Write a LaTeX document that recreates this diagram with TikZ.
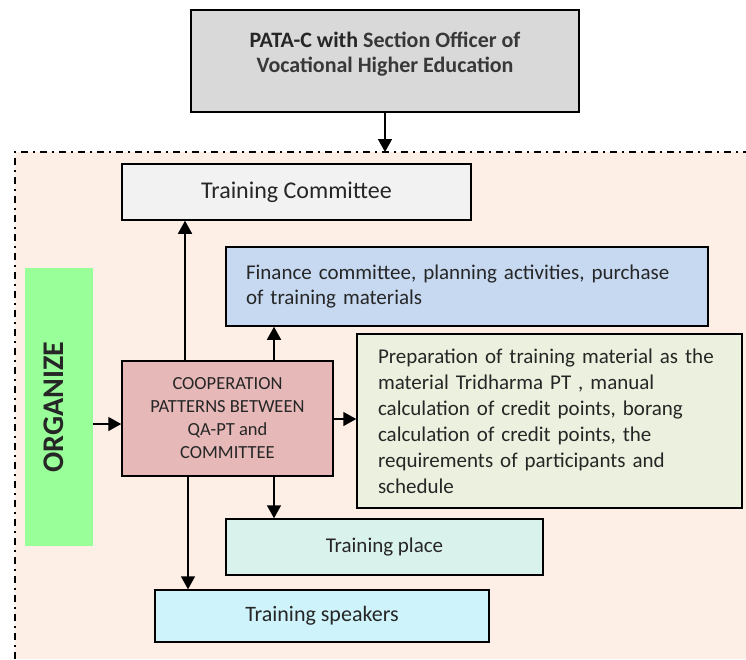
\documentclass[tikz,border=0pt]{standalone}
\usepackage{fontspec}
\setmainfont{Carlito}
\usetikzlibrary{arrows.meta}
\definecolor{peach}{HTML}{FDEFE6}
\definecolor{topgray}{HTML}{D9D9D9}
\definecolor{tcgray}{HTML}{F2F2F2}
\definecolor{finblue}{HTML}{C6D9F1}
\definecolor{coopred}{HTML}{E6B9B8}
\definecolor{prepgreen}{HTML}{EBF1DE}
\definecolor{placemint}{HTML}{D9F2EB}
\definecolor{spkcyan}{HTML}{CEF3FB}
\definecolor{orggreen}{HTML}{99FF99}
\definecolor{txt}{HTML}{262626}
\begin{document}
\begin{tikzpicture}[x=1pt,y=-1pt,
  box/.style={draw=black, line width=1.5pt, inner sep=0pt, text=txt,
    font=\fontsize{21}{25}\selectfont},
  arr/.style={-{Triangle[length=13pt,width=14pt]}, line width=1.5pt},
  border/.style={line width=2pt, dash pattern=on 7pt off 5pt on 2pt off 5pt}
]
\useasboundingbox (0,0) rectangle (746,659);
% organising region
\fill[peach] (15,152) rectangle (746,659);
\draw[border] (15,659) -- (15,152) -- (746,152);
\coordinate (entry) at (385,152);
% nodes
\node[box, fill=topgray, minimum width=388pt, minimum height=102pt,
  font=\fontsize{22}{25}\selectfont] (top) at (385,61)
  {\begin{tabular}{@{}c@{}}\bfseries PATA-C with \textcolor{black!78}{Section Officer of}\\
   \bfseries\textcolor{black!78}{Vocational Higher Education}\\[13pt]\end{tabular}};
\node[box, fill=tcgray, minimum width=349pt, minimum height=56pt,
  font=\fontsize{24}{29}\selectfont] (tc) at (296.5,192) {Training Committee};
\node[box, fill=finblue, minimum width=482pt, minimum height=79pt,
  text width=442pt, align=left] (fin) at (467,286.5)
  {Finance committee, planning activities, purchase\\of training materials};
\node[box, fill=coopred, minimum width=211pt, minimum height=115pt, align=center,
  font=\fontsize{18.5}{23}\selectfont] (coop) at (227.5,418.5)
  {COOPERATION\\PATTERNS BETWEEN\\QA-PT and\\COMMITTEE};
\node[box, fill=prepgreen, minimum width=385pt, minimum height=174pt,
  text width=343pt, align=left, font=\fontsize{21}{26}\selectfont] (prep) at (549.5,421)
  {Preparation of training material as the\\material Tridharma PT , manual\\calculation of credit points, borang\\calculation of credit points, the\\requirements of participants and\\schedule};
\node[box, fill=placemint, minimum width=317pt, minimum height=56pt] (place) at (384.5,547)
  {Training place};
\node[box, fill=spkcyan, minimum width=334pt, minimum height=52pt,
  font=\fontsize{22}{26}\selectfont] (spk) at (322,616)
  {Training speakers};
\node[fill=orggreen, inner sep=0pt, rotate=90, minimum width=278pt, minimum height=68pt,
  text depth=10pt, font=\fontsize{30}{36}\selectfont\bfseries, text=txt] (org) at (59,407)
  {ORGANIZE};
% helper coordinates
\coordinate (x185) at (185,0);
\coordinate (x188) at (188,0);
\coordinate (x274) at (274,0);
\coordinate (y424) at (0,424);
\coordinate (y419) at (0,419);
% connectors
\draw[arr] (top.south) -- (entry);
\draw[arr] (coop.north -| x185) -- (tc.south -| x185);
\draw[arr] (coop.north -| x274) -- (fin.south -| x274);
\draw[arr] (coop.south -| x274) -- (place.north -| x274);
\draw[arr] (coop.south -| x188) -- (spk.north -| x188);
\draw[arr] (org.south |- y424) -- (coop.west |- y424);
\draw[arr] (coop.east |- y419) -- (prep.west |- y419);
\end{tikzpicture}
\end{document}
